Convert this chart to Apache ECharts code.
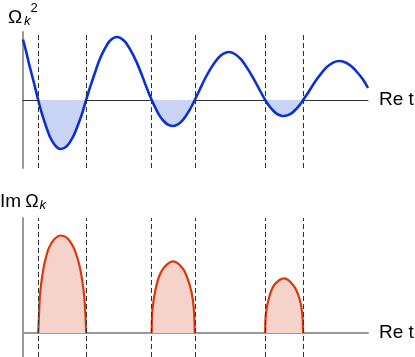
<!DOCTYPE html>
<html>
<head>
<meta charset="utf-8">
<script src="https://cdn.jsdelivr.net/npm/echarts@6/dist/echarts.min.js"></script>
<style>
  html, body { margin: 0; padding: 0; background: #fff; }
  #chart { width: 415px; height: 357px; }
</style>
</head>
<body>
<div id="chart"></div>
<script>
// Re t samples and Ω_k² values
const reT = [0.00,0.09,0.17,0.26,0.35,0.44,0.55,0.67,0.78,0.90,1.01,1.10,1.25,1.36,1.48,1.59,1.71,1.83,1.94,2.09,2.23,2.38,2.52,2.72,2.93,3.10,3.28,3.45,3.59,3.73,3.86,3.97,4.09,4.20,4.33,4.49,4.61,4.72,4.84,4.98,5.13,5.30,5.48,5.65,5.80,5.97,6.14,6.32,6.49,6.67,6.84,7.02,7.13,7.25,7.36,7.48,7.55,7.68,7.80,7.91,8.03,8.12,8.29,8.46,8.64,8.81,8.99,9.16,9.33,9.51,9.68,9.86,10.00];
const omegaSq = [6.05,4.86,3.68,2.48,1.26,0,-1.39,-2.66,-3.68,-4.40,-4.81,-4.90,-4.68,-4.21,-3.48,-2.53,-1.39,0,1.23,2.78,4.12,5.18,5.92,6.30,5.93,5.09,3.89,2.45,1.17,0,-0.94,-1.64,-2.15,-2.47,-2.60,-2.43,-2.09,-1.59,-0.94,0,1.10,2.30,3.36,4.17,4.61,4.80,4.60,4.06,3.24,2.22,1.13,0,-0.57,-1.05,-1.39,-1.57,-1.60,-1.51,-1.29,-0.93,-0.46,0,0.88,1.80,2.64,3.31,3.74,3.90,3.77,3.40,2.80,2.03,1.20];

// Im Ω_k arches
const arch1T = [0.44,0.46,0.49,0.55,0.61,0.68,0.75,0.90,1.10,1.28,1.46,1.55,1.63,1.71,1.77,1.81,1.83];
const arch1V = [0,1.5,3.7,5.5,6.75,7.75,8.5,9.35,9.75,9.5,8.6,7.8,6.85,5.4,3.85,1.8,0];
const arch2T = [3.73,3.75,3.83,3.94,4.10,4.36,4.62,4.77,4.89,4.95,4.98];
const arch2V = [0,2.2,4.15,5.6,6.6,7.16,6.5,5.45,4.0,2.45,0];
const arch3T = [7.02,7.04,7.14,7.30,7.57,7.83,8.00,8.09,8.12];
const arch3V = [0,1.9,3.65,4.87,5.47,4.8,3.6,2.1,0];

// zero crossings of Ω_k² (dashed guides)
const crossings = [0.44,1.83,3.73,4.98,7.02,8.12];

// labels
const axisTitleX = 'Re t';

const FONT = 'Liberation Sans, Arial, Helvetica, sans-serif';
const pair = (xs, ys) => xs.map((x, i) => [x, ys[i]]);

const dashGuides = () => ({
  silent: true,
  symbol: ['none', 'none'],
  label: { show: false },
  lineStyle: { type: [5, 3], color: '#333', width: 1 },
  data: crossings.map(v => ({ xAxis: v }))
});

const chart = echarts.init(document.getElementById('chart'), null, { renderer: 'canvas' });

const archSeries = (xs, ys, withGuides) => {
  const s = {
    type: 'line',
    xAxisIndex: 1, yAxisIndex: 1,
    data: pair(xs, ys),
    smooth: 0.35,
    showSymbol: false,
    lineStyle: { color: '#d9380c', width: 2.2 },
    itemStyle: { color: '#d9380c' },
    areaStyle: { color: '#f5d3cb', opacity: 1 },
    z: 3
  };
  if (withGuides) s.markLine = dashGuides();
  return s;
};

chart.setOption({
  animation: false,
  backgroundColor: '#fff',
  grid: [
    { left: 23, width: 345, top: 32, height: 136 },
    { left: 23, width: 345, top: 218, height: 139 }
  ],
  xAxis: [
    {
      gridIndex: 0, type: 'value', min: 0, max: 10,
      axisLine: { onZero: true, lineStyle: { color: '#333', width: 1 } },
      axisTick: { show: false }, axisLabel: { show: false }, splitLine: { show: false },
      name: axisTitleX, nameLocation: 'end', nameGap: 11,
      nameTextStyle: { fontSize: 19, color: '#000', fontFamily: FONT }
    },
    {
      gridIndex: 1, type: 'value', min: 0, max: 10,
      axisLine: { onZero: true, lineStyle: { color: '#999', width: 2 } },
      axisTick: { show: false }, axisLabel: { show: false }, splitLine: { show: false },
      name: axisTitleX, nameLocation: 'end', nameGap: 11,
      nameTextStyle: { fontSize: 19, color: '#000', fontFamily: FONT }
    }
  ],
  yAxis: [
    {
      gridIndex: 0, type: 'value', min: -6.8, max: 6.8,
      axisLine: { show: true, onZero: false, lineStyle: { color: '#999', width: 2 } },
      axisTick: { show: false }, axisLabel: { show: false }, splitLine: { show: false }
    },
    {
      gridIndex: 1, type: 'value', min: -2.4, max: 11.5,
      axisLine: { show: true, onZero: false, lineStyle: { color: '#999', width: 2 } },
      axisTick: { show: false }, axisLabel: { show: false }, splitLine: { show: false }
    }
  ],
  visualMap: {
    show: false,
    type: 'piecewise',
    seriesIndex: 0,
    dimension: 1,
    pieces: [
      { gte: -100, lt: 0, color: '#c9d3f3' },
      { gte: 0, lte: 100, color: 'rgba(255,255,255,0)' }
    ],
    outOfRange: { color: 'rgba(255,255,255,0)' }
  },
  series: [
    {
      type: 'line',
      xAxisIndex: 0, yAxisIndex: 0,
      data: pair(reT, omegaSq),
      smooth: 0.3,
      showSymbol: false,
      lineStyle: { width: 0 },
      areaStyle: { opacity: 1 },
      z: 2,
      silent: true
    },
    {
      type: 'line',
      xAxisIndex: 0, yAxisIndex: 0,
      data: pair(reT, omegaSq),
      smooth: 0.3,
      showSymbol: false,
      lineStyle: { color: '#0b30d4', width: 2.6 },
      itemStyle: { color: '#0b30d4' },
      z: 3,
      markLine: dashGuides()
    },
    archSeries(arch1T, arch1V, true),
    archSeries(arch2T, arch2V, false),
    archSeries(arch3T, arch3V, false)
  ],
  graphic: [
    { type: 'text', x: 8, y: 17.4, style: { text: 'Ω', font: '19px ' + FONT, fill: '#000', verticalAlign: 'middle', align: 'left' } },
    { type: 'text', x: 24, y: 21, style: { text: 'k', font: 'italic 13px ' + FONT, fill: '#000', verticalAlign: 'middle', align: 'left' } },
    { type: 'text', x: 30.5, y: 8.7, style: { text: '2', font: '13px ' + FONT, fill: '#000', verticalAlign: 'middle', align: 'left' } },
    { type: 'text', x: 0, y: 201.7, style: { text: 'Im', font: '19px ' + FONT, fill: '#000', verticalAlign: 'middle', align: 'left' } },
    { type: 'text', x: 25.3, y: 201.7, style: { text: 'Ω', font: '18px ' + FONT, fill: '#000', verticalAlign: 'middle', align: 'left' } },
    { type: 'text', x: 39.5, y: 205.3, style: { text: 'k', font: 'italic 13px ' + FONT, fill: '#000', verticalAlign: 'middle', align: 'left' } }
  ]
});
</script>
</body>
</html>
